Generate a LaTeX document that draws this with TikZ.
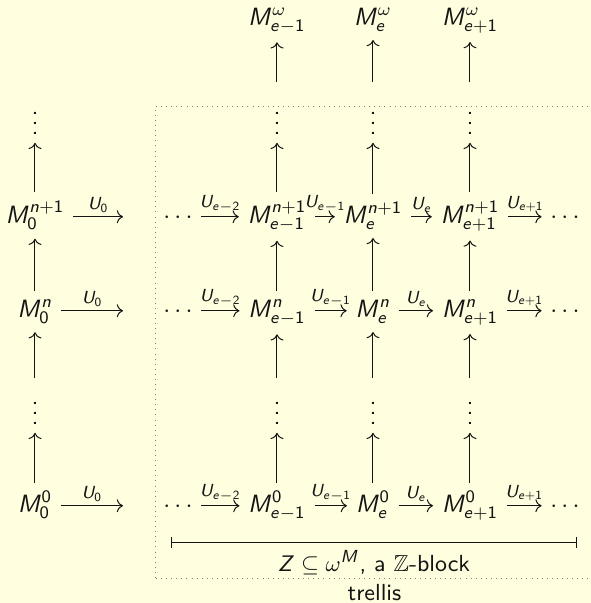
\documentclass[tikz,border=0pt]{standalone}
\usepackage{amssymb}
\usetikzlibrary{arrows.meta,fit}

% sans-serif math letters and digits, slide style
\DeclareSymbolFont{sfup}{OT1}{cmss}{m}{n}
\DeclareSymbolFont{sfit}{OT1}{cmss}{m}{sl}
\DeclareMathSymbol{M}{\mathalpha}{sfit}{`M}
\DeclareMathSymbol{U}{\mathalpha}{sfit}{`U}
\DeclareMathSymbol{Z}{\mathalpha}{sfit}{`Z}
\DeclareMathSymbol{e}{\mathalpha}{sfit}{`e}
\DeclareMathSymbol{n}{\mathalpha}{sfit}{`n}
\DeclareMathSymbol{0}{\mathord}{sfup}{`0}
\DeclareMathSymbol{1}{\mathord}{sfup}{`1}
\DeclareMathSymbol{2}{\mathord}{sfup}{`2}
\DeclareMathSymbol{+}{\mathbin}{sfup}{`+}

\definecolor{paper}{RGB}{255,255,224}
\definecolor{ink}{RGB}{20,20,20}

\tikzset{
  obj/.style={anchor=base, inner sep=3.33pt, text=ink},
  mor/.style={draw=ink, line width=0.4pt, -{Computer Modern Rightarrow}},
  lbl/.style={above, inner sep=1.6pt, font=\scriptsize, text=ink},
  caption/.style={text=ink, font=\fontsize{9.3}{11}\selectfont\sffamily},
  trellisbox/.style={draw=black!50, line width=0.4pt, dash pattern=on 0.4pt off 1.63pt, inner sep=0pt},
  blockbar/.style={draw=ink, line width=0.4pt, {|[width=4.4pt]}-{|[width=4.4pt]}}
}

\begin{document}
\begin{tikzpicture}[x=0.4pt, y=-0.4pt, font=\sffamily]
\fill[paper] (0,0) rectangle (591,603);
\useasboundingbox (0,0) rectangle (591,603);

% the three rows of the grid: name / baseline / exponent
\foreach \r/\y/\s in {p/223/n+1, n/317/n, z/512/0} {
  \node[obj] (L\r) at (35,\y) {$M_0^{\s}$};
  \coordinate (E\r) at (123,\y);
  \node[obj] (D\r) at (178,\y) {$\cdots$};
  \node[obj] (A\r) at (277,\y) {$M_{e-1}^{\s}$};
  \node[obj] (B\r) at (373,\y) {$M_{e}^{\s}$};
  \node[obj] (C\r) at (470,\y) {$M_{e+1}^{\s}$};
  \node[obj] (R\r) at (565,\y) {$\cdots$};
  \draw[mor] ([yshift=2.5pt]L\r.base east) -- node[lbl] {$U_0$} ([yshift=2.5pt]E\r);
  \draw[mor] ([yshift=2.5pt]D\r.base east) -- node[lbl] {$U_{e-2}$} ([yshift=2.5pt]A\r.base west);
  \draw[mor] ([yshift=2.5pt]A\r.base east) -- node[lbl] {$U_{e-1}$} ([yshift=2.5pt]B\r.base west);
  \draw[mor] ([yshift=2.5pt]B\r.base east) -- node[lbl] {$U_{e}$} ([yshift=2.5pt]C\r.base west);
  \draw[mor] ([yshift=2.5pt]C\r.base east) -- node[lbl] {$U_{e+1}$} ([yshift=2.5pt]R\r.base west);
}

% vertical dots in every column
\foreach \c/\x in {L/35, A/277, B/373, C/470} {
  \node[obj] (\c vt) at (\x,134) {$\vdots$};
  \node[obj] (\c vb) at (\x,424) {$\vdots$};
  \draw[mor] (\c z.north) -- (\c vb.south);
  \draw[mor] (\c vb.north) -- (\c n.south);
  \draw[mor] (\c n.north) -- (\c p.south);
  \draw[mor] (\c p.north) -- (\c vt.south);
}

% limits at omega
\node[obj] (Aw) at (277,25) {$M_{e-1}^{\omega}$};
\node[obj] (Bw) at (373,25) {$M_{e}^{\omega}$};
\node[obj] (Cw) at (470,25) {$M_{e+1}^{\omega}$};
\foreach \c in {A,B,C}
  \draw[mor, shorten <=2.4pt] (\c vt.north) -- (\c w.south);

% the Z-block bar
\coordinate (zl) at (171,542);
\coordinate (zr) at (577,542);
\draw[blockbar] (zl) -- node[below, inner sep=3pt, caption] (zlab) {$Z\subseteq\omega^{M}$, a $\mathbb{Z}$-block} (zr);

% the trellis frame
\coordinate (bx1) at (156,106);
\coordinate (bx2) at (593,578);
\node[trellisbox, fit=(bx1)(bx2), label={[caption, inner sep=2pt]below:trellis}] (trellis) {};
\end{tikzpicture}
\end{document}
